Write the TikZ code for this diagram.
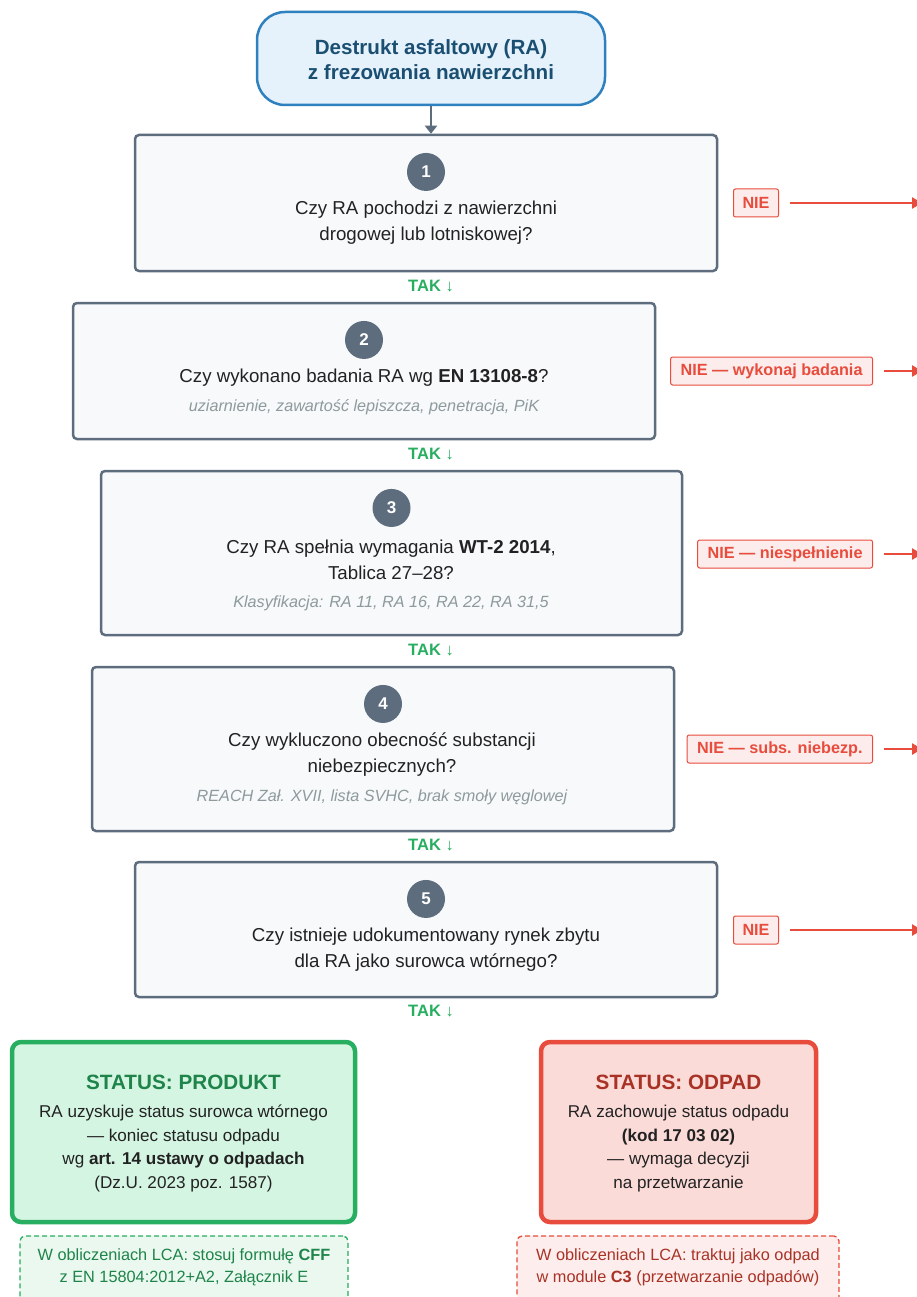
\documentclass[tikz,border=0pt]{standalone}
\usepackage{fontspec}
\setmainfont{Liberation Sans}
\usetikzlibrary{arrows.meta, positioning}

\definecolor{startfill}{HTML}{E5F2FC}
\definecolor{startdraw}{HTML}{2E80BE}
\definecolor{starttext}{HTML}{1B4F72}
\definecolor{stepfill}{HTML}{F7F9FB}
\definecolor{stepdraw}{HTML}{5D6D7E}
\definecolor{textdark}{HTML}{222222}
\definecolor{hintgray}{HTML}{8E9A9B}
\definecolor{nored}{HTML}{E74C3C}
\definecolor{niefill}{HTML}{FDECEC}
\definecolor{takgreen}{HTML}{27AE60}
\definecolor{prodfill}{HTML}{D5F5E3}
\definecolor{prodtext}{HTML}{1E8449}
\definecolor{lcagreen}{HTML}{EAF8EF}
\definecolor{odpfill}{HTML}{FADBD8}
\definecolor{odptext}{HTML}{A93226}
\definecolor{lcared}{HTML}{FDEDEC}

\begin{document}
\begin{tikzpicture}[x=1pt, y=-1pt,
						start/.style={draw=startdraw, fill=startfill, line width=2.5pt, rounded corners=28pt},
						stepbox/.style={draw=stepdraw, fill=stepfill, line width=2.5pt, rounded corners=4pt, minimum width=582pt},
						num/.style={circle, fill=stepdraw, text=white, minimum size=38pt, inner sep=0pt, font=\fontsize{17}{17}\selectfont\bfseries},
						question/.style={align=center, text=textdark, inner sep=0pt, font=\fontsize{18.7}{26}\selectfont},
						hint/.style={text=hintgray, inner sep=0pt, font=\fontsize{16.2}{18}\selectfont\itshape},
						nie/.style={draw=nored, fill=niefill, line width=1pt, rounded corners=2pt, text=nored, minimum height=28pt, inner xsep=10pt, anchor=east, font=\fontsize{16.2}{17}\selectfont\bfseries},
						tak/.style={text=takgreen, inner sep=0pt, font=\fontsize{16.5}{17}\selectfont\bfseries},
						status/.style={line width=4.5pt, rounded corners=9pt, minimum width=#1, minimum height=180pt},
						lca/.style={dash pattern=on 5pt off 3pt, line width=1.3pt, rounded corners=5pt, minimum width=#1, minimum height=80pt},
						body/.style={align=center, text=textdark, inner sep=0pt, font=\fontsize{17.1}{23.7}\selectfont},
						every edge/.append style={draw, line width=2.8pt, -{Triangle[length=10pt, width=11pt]}},]
		\useasboundingbox (0,0) rectangle (917,1297);

		% start
		\node (start) [start, minimum width=348pt, minimum height=93pt] at (431,58.5) {};
		\node (starttxt) [align=center, text=starttext, inner sep=0pt, font=\fontsize{20.6}{25}\selectfont\bfseries] at (431,59.5) {Destrukt asfaltowy (RA)\\z frezowania nawierzchni};

		% questions
		\node (s1) [stepbox, minimum height=136pt] at (426,203) {};
		\node (s2) [stepbox, minimum height=136pt] at (364,371) {};
		\node (s3) [stepbox, minimum width=581pt, minimum height=164pt] at (391.5,553) {};
		\node (s4) [stepbox, minimum height=164pt] at (383,749) {};
		\node (s5) [stepbox, minimum height=135pt] at (426,929.5) {};

		\node (n1) [num, below=19pt of s1.north] {1};
		\node (n2) [num, below=19pt of s2.north] {2};
		\node (n3) [num, below=19pt of s3.north] {3};
		\node (n4) [num, below=19pt of s4.north] {4};
		\node (n5) [num, below=19pt of s5.north] {5};

		\node (q1) [question] at (426,223) {Czy RA pochodzi z nawierzchni\\drogowej lub lotniskowej?};
		\node (q2) [question] at (364,378) {Czy wykonano badania RA wg \textbf{EN 13108-8}?};
		\node (q3) [question] at (391,559.5) {Czy RA spełnia wymagania \textbf{WT-2 2014},\\Tablica 27–28?};
		\node (q4) [question] at (382,755) {Czy wykluczono obecność substancji\\niebezpiecznych?};
		\node (q5) [question] at (426,950) {Czy istnieje udokumentowany rynek zbytu\\dla RA jako surowca wtórnego?};

		\node (h2) [hint] at (364,407) {uziarnienie, zawartość lepiszcza, penetracja, PiK};
		\node (h3) [hint] at (391,603) {Klasyfikacja: RA 11, RA 16, RA 22, RA 31,5};
		\node (h4) [hint] at (382,797) {REACH Zał. XVII, lista SVHC, brak smoły węglowej};

		\node (t1) [tak] at (431,286) {TAK ↓};
		\node (t2) [tak] at (431,454) {TAK ↓};
		\node (t3) [tak] at (431,650) {TAK ↓};
		\node (t4) [tak] at (431,845) {TAK ↓};
		\node (t5) [tak] at (431,1011) {TAK ↓};

		% NIE branches
		\node (nie1) [nie, inner xsep=9pt] at (779,203) {NIE};
		\node (nie2) [nie] at (873,371) {NIE — wykonaj badania};
		\node (nie3) [nie] at (873,554) {NIE — niespełnienie};
		\node (nie4) [nie] at (873,749) {NIE — subs. niebezp.};
		\node (nie5) [nie, inner xsep=9pt] at (779,930) {NIE};

		\coordinate (e1) at (922,203);
		\coordinate (e2) at (922,371);
		\coordinate (e3) at (922,554);
		\coordinate (e4) at (922,749);
		\coordinate (e5) at (922,930);

		% status
		\node (prod) [status=343pt, draw=takgreen, fill=prodfill] at (183.5,1132) {};
		\node (prodtitle) [text=prodtext, inner sep=0pt, font=\fontsize{20.7}{21}\selectfont\bfseries] at (183.5,1082) {STATUS: PRODUKT};
		\node (prodtxt) [body] at (183.5,1148.5) {RA uzyskuje status surowca wtórnego\\— koniec statusu odpadu\\wg \textbf{art. 14 ustawy o odpadach}\\(Dz.U. 2023 poz. 1587)};

		\node (odp) [status=275pt, draw=nored, fill=odpfill] at (678.5,1132) {};
		\node (odptitle) [text=odptext, inner sep=0pt, font=\fontsize{20.7}{21}\selectfont\bfseries] at (678.5,1082) {STATUS: ODPAD};
		\node (odptxt) [body] at (678.5,1148.5) {RA zachowuje status odpadu\\\textbf{(kod 17 03 02)}\\— wymaga decyzji\\na przetwarzanie};

		\node (lca1) [lca=328pt, draw=takgreen, fill=lcagreen] at (184,1276) {};
		\node (lca1txt) [align=center, text=prodtext, inner sep=0pt, font=\fontsize{16.3}{22}\selectfont] at (184,1267) {W obliczeniach LCA: stosuj formułę \textbf{CFF}\\z EN 15804:2012+A2, Załącznik E};
		\node (lca2) [lca=322pt, draw=nored, fill=lcared] at (678,1276) {};
		\node (lca2txt) [align=center, text=odptext, inner sep=0pt, font=\fontsize{16.3}{22}\selectfont] at (678,1267) {W obliczeniach LCA: traktuj jako odpad\\w module \textbf{C3} (przetwarzanie odpadów)};

		\path 	(start) edge[draw=stepdraw, -{Triangle[length=8pt, width=12pt]}] (start |- s1.north)
				(nie1) edge[draw=nored, shorten <=11pt] (e1)
				(nie2) edge[draw=nored, shorten <=11pt] (e2)
				(nie3) edge[draw=nored, shorten <=11pt] (e3)
				(nie4) edge[draw=nored, shorten <=11pt] (e4)
				(nie5) edge[draw=nored, shorten <=11pt] (e5);
	\end{tikzpicture}
\end{document}
